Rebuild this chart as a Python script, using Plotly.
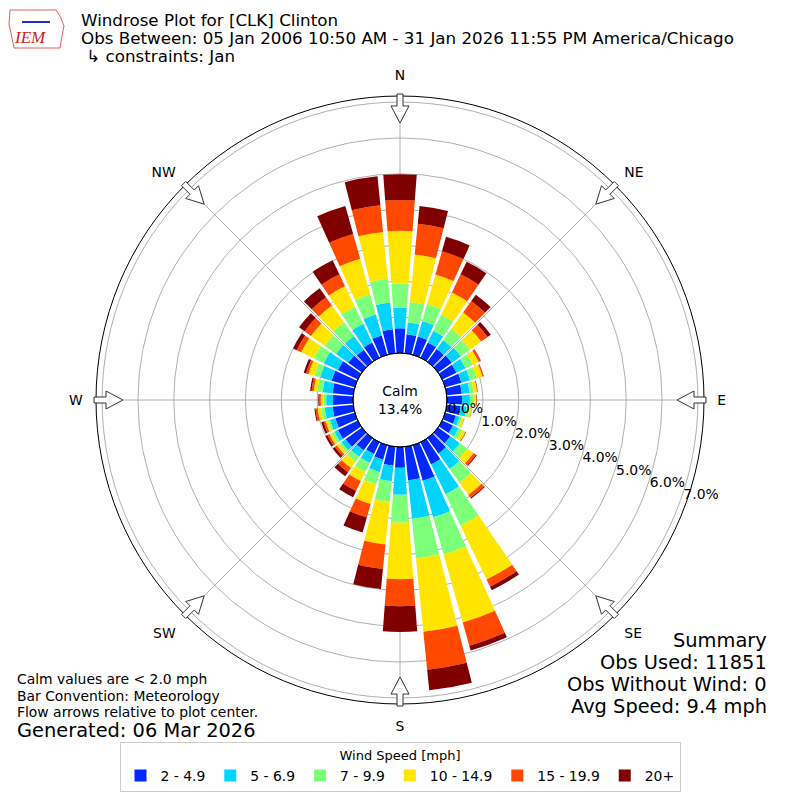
import plotly.graph_objects as go
from math import sin, cos, radians

# wind direction (deg) of each bar
directions = [0, 10, 20, 30, 40, 50, 60, 70, 80, 90, 100, 110,
              120, 130, 140, 150, 160, 170, 180, 190, 200, 210, 220, 230,
              240, 250, 260, 270, 280, 290, 300, 310, 320, 330, 340, 350]

# frequency [%] per speed bin
spd_2_5 = [0.69, 0.53, 0.53, 0.47, 0.44, 0.47, 0.44, 0.47, 0.42, 0.42, 0.39, 0.31,
           0.33, 0.42, 0.53, 0.69, 1.03, 0.94, 0.58, 0.53, 0.42, 0.36, 0.42, 0.56,
           0.61, 0.56, 0.58, 0.56, 0.58, 0.67, 0.61, 0.47, 0.42, 0.47, 0.56, 0.67]
spd_5_7 = [0.58, 0.33, 0.44, 0.36, 0.31, 0.31, 0.28, 0.25, 0.22, 0.22, 0.17, 0.11,
           0.17, 0.33, 0.53, 0.92, 1.06, 1.08, 0.75, 0.44, 0.36, 0.28, 0.22, 0.14,
           0.11, 0.16, 0.22, 0.19, 0.28, 0.33, 0.44, 0.42, 0.47, 0.58, 0.61, 0.75]
spd_7_10 = [0.67, 0.58, 0.50, 0.50, 0.39, 0.31, 0.22, 0.19, 0.11, 0.11, 0.08, 0.07,
            0.11, 0.25, 0.47, 0.97, 1.08, 1.11, 0.78, 0.58, 0.36, 0.28, 0.17, 0.08,
            0.08, 0.06, 0.10, 0.08, 0.14, 0.17, 0.31, 0.39, 0.47, 0.53, 0.58, 0.67]
spd_10_15 = [1.47, 1.33, 0.86, 0.69, 0.56, 0.39, 0.19, 0.17, 0.10, 0.07, 0.06, 0.06,
             0.11, 0.22, 0.42, 1.67, 1.97, 2.06, 1.58, 1.19, 0.56, 0.28, 0.22, 0.08,
             0.08, 0.07, 0.10, 0.07, 0.11, 0.17, 0.39, 0.47, 0.58, 0.64, 1.03, 1.31]
spd_15_20 = [0.86, 0.86, 0.67, 0.56, 0.39, 0.22, 0.06, 0.03, 0.01, 0.01, 0.01, 0.01,
             0.01, 0.08, 0.10, 0.22, 0.67, 1.06, 0.75, 0.69, 0.39, 0.31, 0.14, 0.07,
             0.06, 0.06, 0.06, 0.04, 0.06, 0.07, 0.14, 0.22, 0.28, 0.36, 0.72, 0.75]
spd_20p = [0.72, 0.50, 0.42, 0.39, 0.22, 0.11, 0.01, 0.01, 0.01, 0.01, 0.00, 0.00,
           0.01, 0.03, 0.03, 0.11, 0.14, 0.58, 0.72, 0.56, 0.44, 0.19, 0.14, 0.07,
           0.06, 0.06, 0.03, 0.03, 0.04, 0.07, 0.11, 0.19, 0.31, 0.44, 0.81, 0.81]

bin_labels = ['2 - 4.9', '5 - 6.9', '7 - 9.9', '10 - 14.9', '15 - 19.9', '20+']
bin_colors = ['#0028ff', '#00d4ff', '#7cff79', '#ffe500', '#ff4800', '#800000']

radial_ticks = [0, 1, 2, 3, 4, 5, 6, 7]
radial_text = ['0.0%', '1.0%', '2.0%', '3.0%', '4.0%', '5.0%', '6.0%', '7.0%']
compass_angles = [0, 45, 90, 135, 180, 225, 270, 315]
compass_names = ['N', 'NE', 'E', 'SE', 'S', 'SW', 'W', 'NW']

calm_pct = 13.4
R_MAX = 7.17

FONT = 'DejaVu Sans'
W = H = 800
CX, CY, R_OUT, R_HOLE = 400, 400, 304, 47

fig = go.Figure()
series = [spd_2_5, spd_5_7, spd_7_10, spd_10_15, spd_15_20, spd_20p]
for vals, label, color in zip(series, bin_labels, bin_colors):
    fig.add_trace(go.Barpolar(r=vals, theta=directions, width=8.5, name=label,
                              marker=dict(color=color, line=dict(width=0))))


def px(x, y):
    # pixel (y down) -> paper coords
    return x / W, 1 - y / H


def arrow_path(angle):
    a = radians(angle)
    pts = [(306, 3), (294, 3), (294, 9), (277, 0), (294, -9), (294, -3), (306, -3)]
    out = []
    for r, w in pts:
        x = CX + r * sin(a) + w * cos(a)
        y = CY - r * cos(a) + w * sin(a)
        out.append('%.5f,%.5f' % px(x, y))
    return 'M ' + ' L '.join(out) + ' Z'


shapes = []
# hole edge
shapes.append(dict(type='circle', xref='paper', yref='paper',
                   x0=(CX - R_HOLE) / W, x1=(CX + R_HOLE) / W,
                   y0=1 - (CY + R_HOLE) / H, y1=1 - (CY - R_HOLE) / H,
                   line=dict(color='black', width=1), layer='above'))
for ang in compass_angles:
    shapes.append(dict(type='path', xref='paper', yref='paper', path=arrow_path(ang),
                       fillcolor='white', line=dict(color='#333333', width=1), layer='above'))

# rough IEM logo
logo = [(10, 10), (56, 10), (60, 16), (64, 26), (62, 36), (60, 48), (14, 48), (12, 38), (9, 24)]
shapes.append(dict(type='path', xref='paper', yref='paper',
                   path='M ' + ' L '.join('%.5f,%.5f' % px(x, y) for x, y in logo) + ' Z',
                   line=dict(color='#e06060', width=1)))
shapes.append(dict(type='line', xref='paper', yref='paper',
                   x0=22 / W, x1=50 / W, y0=1 - 22 / H, y1=1 - 22 / H,
                   line=dict(color='#2030c0', width=2)))

annotations = [
    dict(text='<i>IEM</i>', x=13 / W, y=1 - 38 / H, xanchor='left', yanchor='middle',
         font=dict(family='Liberation Serif', size=17, color='#d02020'), showarrow=False),
    dict(text='Windrose Plot for [CLK] Clinton', x=80 / W, y=1 - 20 / H),
    dict(text='Obs Between: 05 Jan 2006 10:50 AM - 31 Jan 2026 11:55 PM America/Chicago',
         x=80 / W, y=1 - 38 / H),
    dict(text=' ↳ constraints: Jan', x=80 / W, y=1 - 56 / H),
    dict(text='Calm values are < 2.0 mph', x=16 / W, y=1 - 679 / H, font=dict(size=13.9)),
    dict(text='Bar Convention: Meteorology', x=16 / W, y=1 - 696 / H, font=dict(size=13.9)),
    dict(text='Flow arrows relative to plot center.', x=16 / W, y=1 - 712 / H, font=dict(size=13.9)),
    dict(text='Generated: 06 Mar 2026', x=16 / W, y=1 - 730 / H, font=dict(size=19.4)),
    dict(text='Summary', x=768 / W, y=1 - 640 / H, xanchor='right', font=dict(size=19.4)),
    dict(text='Obs Used: 11851', x=768 / W, y=1 - 662 / H, xanchor='right', font=dict(size=19.4)),
    dict(text='Obs Without Wind: 0', x=768 / W, y=1 - 684 / H, xanchor='right', font=dict(size=19.4)),
    dict(text='Avg Speed: 9.4 mph', x=768 / W, y=1 - 706 / H, xanchor='right', font=dict(size=19.4)),
    dict(text='Calm<br>%.1f%%' % calm_pct, x=0.5, y=0.5, xanchor='center', font=dict(size=13.9)),
]
for ann in annotations:
    ann.setdefault('xref', 'paper')
    ann.setdefault('yref', 'paper')
    ann.setdefault('xanchor', 'left')
    ann.setdefault('yanchor', 'middle')
    ann.setdefault('showarrow', False)
    ann.setdefault('borderpad', 0)
    ann.setdefault('font', dict(size=16.7))
    ann['font'].setdefault('family', FONT)
    ann['font'].setdefault('color', 'black')

fig.update_layout(
    width=W, height=H, margin=dict(l=0, r=0, t=0, b=0),
    paper_bgcolor='white', plot_bgcolor='white',
    font=dict(family=FONT, size=13.9, color='black'),
    barmode='stack',
    polar=dict(
        domain=dict(x=[(CX - R_OUT) / W, (CX + R_OUT) / W], y=[1 - (CY + R_OUT) / H, 1 - (CY - R_OUT) / H]),
        hole=R_HOLE / R_OUT,
        bgcolor='white',
        bargap=0,
        angularaxis=dict(rotation=90, direction='clockwise', tickmode='array',
                         tickvals=compass_angles, ticktext=compass_names,
                         showticklabels=True, ticks='outside', ticklen=10,
                         tickcolor='rgba(0,0,0,0)', tickfont=dict(size=13.9, family=FONT),
                         showgrid=True, gridcolor='#b0b0b0', gridwidth=1,
                         showline=True, linecolor='black', linewidth=1),
        radialaxis=dict(range=[0, R_MAX], tickmode='array', tickvals=radial_ticks,
                        ticktext=radial_text, angle=-20, tickangle=-20, side='counterclockwise',
                        showline=False, showgrid=True, gridcolor='#b0b0b0', gridwidth=1,
                        ticks='', tickfont=dict(size=13.9, family=FONT)),
    ),
    legend=dict(orientation='h', x=0.5, xanchor='center', y=1 - 742 / H, yanchor='top',
                title=dict(text='Wind Speed [mph]', side='top center', font=dict(size=13)),
                bordercolor='#cccccc', borderwidth=1, bgcolor='white',
                font=dict(size=13.9), itemwidth=30, traceorder='normal'),
    shapes=shapes,
    annotations=annotations,
)

fig.write_html('out.html', config={'displayModeBar': False},
               post_script="document.body.style.margin='0';document.body.style.overflow='hidden';")
